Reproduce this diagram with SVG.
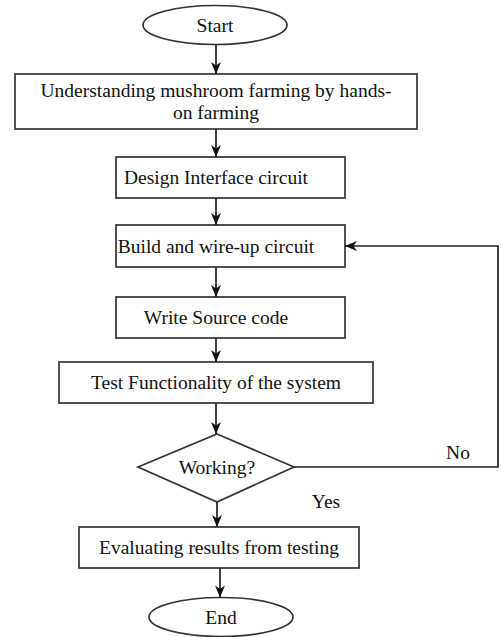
<svg xmlns="http://www.w3.org/2000/svg" width="501" height="637" viewBox="0 0 501 637">
<defs>
<marker id="ah" viewBox="0 0 12 10" refX="12" refY="5" markerWidth="12" markerHeight="10" markerUnits="userSpaceOnUse" orient="auto">
<path d="M0,0 L12,5 L0,10 L3.5,5 Z" fill="#111"/>
</marker>
<style>
.n{fill:#fff;stroke:#333;stroke-width:1.7}
.t{font-size:19.5px;fill:#111;text-anchor:middle}
.c{fill:none;stroke:#222;stroke-width:1.7}
</style>
</defs>
<rect width="501" height="637" fill="#fff"/>
<g font-family="'Liberation Serif', 'DejaVu Serif', serif">
<g id="start"><ellipse class="n" cx="215" cy="25" rx="72" ry="19.5"/><text class="t" x="215" y="32">Start</text></g>
<g id="understand"><rect class="n" x="15" y="74" width="402" height="55"/><text class="t" x="216" y="97">Understanding mushroom farming by hands-</text><text class="t" x="216" y="119">on farming</text></g>
<g id="design"><rect class="n" x="116" y="157" width="229" height="41"/><text class="t" x="216" y="184">Design Interface circuit</text></g>
<g id="build"><rect class="n" x="116" y="225" width="229" height="42"/><text class="t" x="216" y="253">Build and wire-up circuit</text></g>
<g id="write"><rect class="n" x="116" y="297" width="229" height="41"/><text class="t" x="216" y="324">Write Source code</text></g>
<g id="test"><rect class="n" x="59" y="362" width="314" height="41"/><text class="t" x="216" y="389">Test Functionality of the system</text></g>
<g id="working"><polygon class="n" points="217,434 294,467 217,502 138,467"/><text class="t" x="217" y="474">Working?</text></g>
<g id="evaluate"><rect class="n" x="79" y="527" width="280" height="41"/><text class="t" x="219" y="554">Evaluating results from testing</text></g>
<g id="end"><ellipse class="n" cx="221" cy="617" rx="72" ry="19.5"/><text class="t" x="221" y="624">End</text></g>
<g id="connectors">
<line class="c" x1="216" y1="44.5" x2="216" y2="74" marker-end="url(#ah)"/>
<line class="c" x1="216" y1="129" x2="216" y2="157" marker-end="url(#ah)"/>
<line class="c" x1="216" y1="198" x2="216" y2="225" marker-end="url(#ah)"/>
<line class="c" x1="216" y1="267" x2="216" y2="297" marker-end="url(#ah)"/>
<line class="c" x1="216" y1="338" x2="216" y2="362" marker-end="url(#ah)"/>
<line class="c" x1="216" y1="403" x2="216" y2="434" marker-end="url(#ah)"/>
<line class="c" x1="217" y1="502" x2="217" y2="527" marker-end="url(#ah)"/>
<line class="c" x1="220" y1="568" x2="220" y2="597.5" marker-end="url(#ah)"/>
<polyline class="c" points="294,467 498,467 498,246 345,246" marker-end="url(#ah)"/>
<text class="t" x="458" y="459">No</text>
<text class="t" x="326" y="508">Yes</text>
</g>
</g>
</svg>
